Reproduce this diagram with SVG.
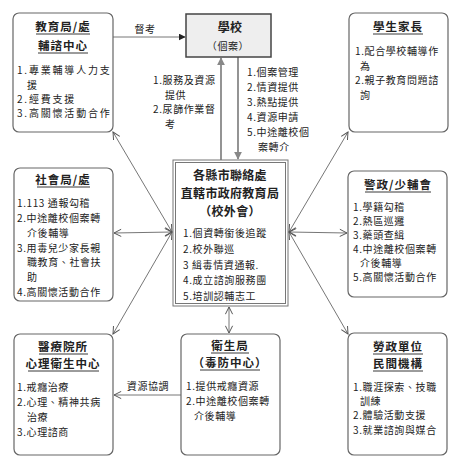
<svg xmlns="http://www.w3.org/2000/svg" width="459" height="465" viewBox="0 0 459 465">
<style>
text{font-family:"Noto Sans CJK TC","Noto Sans CJK SC",sans-serif;fill:#222;font-size:10px;letter-spacing:0.6px}
.t{font-weight:bold;font-size:11.5px;text-anchor:middle;letter-spacing:1px}
.ct{font-weight:bold;font-size:12px;text-anchor:middle;letter-spacing:0.3px}
.wide{letter-spacing:1.8px}
.box{fill:#fff;stroke:#666;stroke-width:1.2}
.ul{stroke:#222;stroke-width:0.9}
.ln{stroke:#666;stroke-width:0.9;fill:none}
.ga{stroke:#888;stroke-width:1.8;fill:none}
</style>
<defs>
<marker id="open" viewBox="0 0 10 10" refX="9" refY="5" markerWidth="9" markerHeight="9" markerUnits="userSpaceOnUse" orient="auto-start-reverse">
<path d="M1,1 L9,5 L1,9" fill="none" stroke="#555" stroke-width="1.1"/>
</marker>
<marker id="fill" viewBox="0 0 10 10" refX="9" refY="5" markerWidth="7" markerHeight="7" markerUnits="userSpaceOnUse" orient="auto">
<path d="M0,0 L10,5 L0,10 Z" fill="#222"/>
</marker>
<marker id="gfill" viewBox="0 0 10 10" refX="9" refY="5" markerWidth="8" markerHeight="8" markerUnits="userSpaceOnUse" orient="auto">
<path d="M0,0 L10,5 L0,10 Z" fill="#888"/>
</marker>
</defs>

<g id="connectors">
<line class="ln" x1="113" y1="37" x2="185" y2="37" stroke="#333" marker-end="url(#fill)"/>
<text x="145" y="33" text-anchor="middle">督考</text>
<line class="ga" x1="221" y1="160" x2="221" y2="58" marker-end="url(#gfill)"/>
<line class="ga" x1="238" y1="57" x2="238" y2="159" marker-end="url(#gfill)"/>
<line class="ln" x1="172" y1="232" x2="113" y2="132" marker-start="url(#open)" marker-end="url(#open)"/>
<line class="ln" x1="172" y1="232" x2="114" y2="233" marker-start="url(#open)" marker-end="url(#open)"/>
<line class="ln" x1="172" y1="232" x2="113" y2="334" marker-start="url(#open)" marker-end="url(#open)"/>
<line class="ln" x1="289" y1="232" x2="348" y2="132" marker-start="url(#open)" marker-end="url(#open)"/>
<line class="ln" x1="289" y1="232" x2="347" y2="233" marker-start="url(#open)" marker-end="url(#open)"/>
<line class="ln" x1="289" y1="232" x2="348" y2="334" marker-start="url(#open)" marker-end="url(#open)"/>
<line class="ln" x1="229" y1="307" x2="229" y2="333" marker-start="url(#open)" marker-end="url(#open)"/>
<line class="ln" x1="181" y1="395" x2="114" y2="395" marker-end="url(#open)"/>
<text x="148" y="390" text-anchor="middle" letter-spacing="1">資源協調</text>
<text x="153" y="84">1.服務及資源</text>
<text x="165" y="99">提供</text>
<text x="153" y="113">2.尿篩作業督</text>
<text x="165" y="128">考</text>
<text x="247" y="76">1.個案管理</text>
<text x="247" y="91">2.情資提供</text>
<text x="247" y="106">3.熱點提供</text>
<text x="247" y="121">4.資源申請</text>
<text x="247" y="136">5.中途離校個</text>
<text x="258" y="151">案轉介</text>
</g>

<g id="edu">
<rect class="box" x="13" y="13" width="100" height="119" rx="6"/>
<text class="t" x="63" y="31">教育局/處</text>
<line class="ul" x1="36" y1="34" x2="90" y2="34"/>
<text class="t" x="63" y="50">輔諮中心</text>
<line class="ul" x1="38" y1="53" x2="88" y2="53"/>
<text class="wide" x="17" y="74">1.專業輔導人力支</text>
<text class="wide" x="27" y="89">援</text>
<text class="wide" x="17" y="103">2.經費支援</text>
<text class="wide" x="17" y="117">3.高關懷活動合作</text>
</g>

<g id="school">
<rect x="186" y="14" width="85" height="43" fill="#eeeeee" stroke="#444" stroke-width="1.5"/>
<text class="ct" x="230" y="32" letter-spacing="5">學校</text>
<text x="228" y="50" text-anchor="middle" font-size="11.5" letter-spacing="0.5">（個案）</text>
</g>

<g id="parents">
<rect class="box" x="349" y="13" width="99" height="119" rx="6"/>
<text class="t" x="398" y="31">學生家長</text>
<line class="ul" x1="373" y1="34" x2="423" y2="34"/>
<text x="355" y="55">1.配合學校輔導作</text>
<text x="360" y="70">為</text>
<text x="355" y="84">2.親子教育問題諮</text>
<text x="360" y="99">詢</text>
</g>

<g id="center">
<rect x="173" y="160" width="115" height="146" fill="#fff" stroke="#777" stroke-width="1"/>
<rect x="175.5" y="162.5" width="110" height="141" fill="none" stroke="#777" stroke-width="1"/>
<text class="ct" x="230" y="180">各縣市聯絡處</text>
<text class="ct" x="230" y="198">直轄市政府教育局</text>
<text class="ct" x="230" y="216">（校外會）</text>
<text x="183" y="237">1.個資轉銜後追蹤</text>
<text x="183" y="253">2.校外聯巡</text>
<text x="183" y="269">3 緝毒情資通報.</text>
<text x="183" y="284">4.成立諮詢服務團</text>
<text x="183" y="300">5.培訓認輔志工</text>
</g>

<g id="social">
<rect class="box" x="14" y="168" width="99" height="133" rx="6"/>
<text class="t" x="63" y="184">社會局/處</text>
<line class="ul" x1="37" y1="187" x2="90" y2="187"/>
<text x="17" y="207">1.113 通報勾稽</text>
<text x="17" y="222">2.中途離校個案轉</text>
<text x="27" y="237">介後輔導</text>
<text x="17" y="252">3.用毒兒少家長親</text>
<text x="27" y="266">職教育、社會扶</text>
<text x="27" y="281">助</text>
<text x="17" y="296">4.高關懷活動合作</text>
</g>

<g id="police">
<rect class="box" x="348" y="171" width="99" height="126" rx="6"/>
<text class="t" x="398" y="189">警政/少輔會</text>
<line class="ul" x1="365" y1="192" x2="431" y2="192"/>
<text x="353" y="211">1.學籍勾稽</text>
<text x="353" y="225">2.熱區巡邏</text>
<text x="353" y="239">3.藥頭查緝</text>
<text x="353" y="253">4.中途離校個案轉</text>
<text x="360" y="267">介後輔導</text>
<text x="353" y="281">5.高關懷活動合作</text>
</g>

<g id="medical">
<rect class="box" x="14" y="334" width="99" height="121" rx="6"/>
<text class="t" x="63" y="351">醫療院所</text>
<line class="ul" x1="39" y1="354" x2="88" y2="354"/>
<text class="t" x="63" y="368">心理衛生中心</text>
<line class="ul" x1="28" y1="371" x2="99" y2="371"/>
<text x="17" y="391">1.戒癮治療</text>
<text x="17" y="406">2.心理、精神共病</text>
<text x="27" y="421">治療</text>
<text x="17" y="436">3.心理諮商</text>
</g>

<g id="health">
<rect class="box" x="181" y="334" width="99" height="121" rx="6"/>
<text class="t" x="230" y="350">衛生局</text>
<line class="ul" x1="211" y1="353" x2="249" y2="353"/>
<text class="t" x="230" y="367">（毒防中心）</text>
<line class="ul" x1="200" y1="370" x2="260" y2="370"/>
<text x="186" y="390">1.提供戒癮資源</text>
<text x="186" y="405">2.中途離校個案轉</text>
<text x="194" y="420">介後輔導</text>
</g>

<g id="labor">
<rect class="box" x="348" y="333" width="99" height="122" rx="6"/>
<text class="t" x="398" y="351">勞政單位</text>
<line class="ul" x1="373" y1="354" x2="423" y2="354"/>
<text class="t" x="398" y="368">民間機構</text>
<line class="ul" x1="373" y1="371" x2="423" y2="371"/>
<text x="353" y="391">1.職涯探索、技職</text>
<text x="360" y="405">訓練</text>
<text x="353" y="419">2.體驗活動支援</text>
<text x="353" y="434">3.就業諮詢與媒合</text>
</g>
</svg>
